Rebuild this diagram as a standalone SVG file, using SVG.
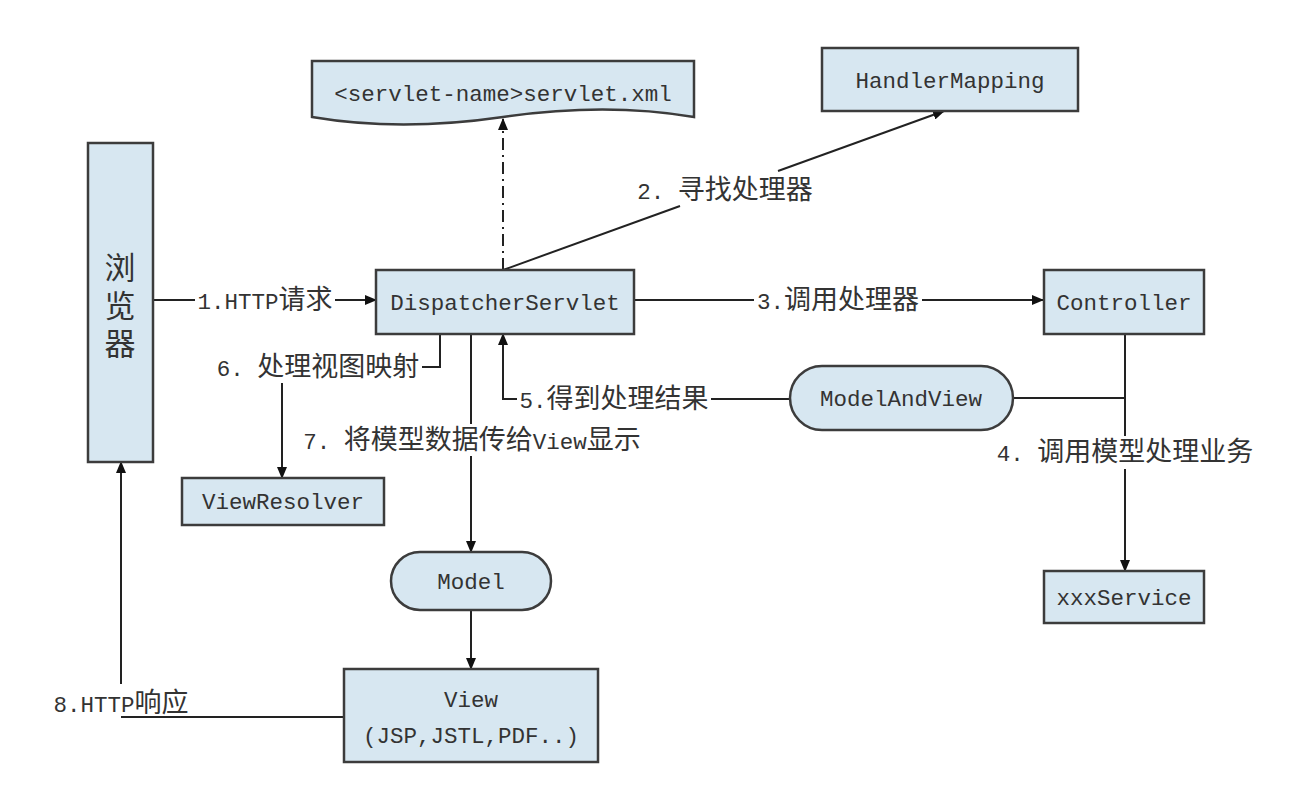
<svg xmlns="http://www.w3.org/2000/svg" width="1296" height="808" viewBox="0 0 1296 808">
<style>
.box{fill:#d7e7f1;stroke:#3c3c3c;stroke-width:2.5}
.t{font-family:'Liberation Mono','Noto Sans CJK SC',monospace;font-size:22.5px;fill:#333;text-anchor:middle}
.c{font-family:'Noto Sans CJK SC',sans-serif;font-size:27px}
.big{font-family:'Noto Sans CJK SC',sans-serif;font-size:31px;fill:#333;text-anchor:middle;writing-mode:vertical-rl;letter-spacing:7px}
.ln{fill:none;stroke:#222;stroke-width:2}
.arr{marker-end:url(#ah)}
.dd{stroke-dasharray:12 5 2 5}
</style>
<defs>
<marker id="ah" markerWidth="12" markerHeight="10" refX="11" refY="5" orient="auto" markerUnits="userSpaceOnUse">
<path d="M0,0 L12,5 L0,10 Z" fill="#111"/>
</marker>
</defs>
<rect width="1296" height="808" fill="#fff"/>

<g id="connectors">
<line class="ln" x1="153" y1="300" x2="195" y2="300"/>
<line class="ln arr" x1="335" y1="300" x2="376" y2="300"/>
<line class="ln dd arr" x1="503" y1="270" x2="503" y2="119"/>
<line class="ln" x1="503" y1="270" x2="680" y2="206"/>
<line class="ln arr" x1="778" y1="171" x2="944" y2="111"/>
<line class="ln" x1="634" y1="300" x2="754" y2="300"/>
<line class="ln arr" x1="922" y1="300" x2="1043" y2="300"/>
<line class="ln" x1="1125" y1="334" x2="1125" y2="436"/>
<line class="ln arr" x1="1125" y1="469" x2="1125" y2="571"/>
<line class="ln" x1="1013" y1="398" x2="1125" y2="398"/>
<line class="ln" x1="790" y1="399" x2="711" y2="399"/>
<polyline class="ln arr" points="517,399 503,399 503,334"/>
<polyline class="ln" points="440,334 440,367 422,367"/>
<line class="ln arr" x1="282" y1="383" x2="282" y2="478"/>
<line class="ln" x1="471" y1="334" x2="471" y2="424"/>
<line class="ln arr" x1="471" y1="456" x2="471" y2="552"/>
<line class="ln arr" x1="471" y1="610" x2="471" y2="669"/>
<line class="ln" x1="344" y1="717" x2="121" y2="717"/>
<line class="ln arr" x1="121" y1="684" x2="121" y2="462"/>
<text class="t" x="265" y="309">1.HTTP<tspan class="c">请求</tspan></text>
<text class="t" x="725" y="199">2. <tspan class="c">寻找处理器</tspan></text>
<text class="t" x="838" y="309">3.<tspan class="c">调用处理器</tspan></text>
<text class="t" x="1125" y="461">4. <tspan class="c">调用模型处理业务</tspan></text>
<text class="t" x="614" y="408">5.<tspan class="c">得到处理结果</tspan></text>
<text class="t" x="318" y="376">6. <tspan class="c">处理视图映射</tspan></text>
<text class="t" x="472" y="449">7. <tspan class="c">将模型数据传给</tspan>View<tspan class="c">显示</tspan></text>
<text class="t" x="121" y="712">8.HTTP<tspan class="c">响应</tspan></text>
</g>

<g id="browser">
<rect class="box" x="88" y="143" width="65" height="319"/>
<text class="big" x="120" y="309">浏览器</text>
</g>
<g id="servletxml">
<path class="box" d="M312,61 H694 V117 Q606,102 503,117 T312,117 Z"/>
<text class="t" x="503" y="101">&lt;servlet-name&gt;servlet.xml</text>
</g>
<g id="handlermapping">
<rect class="box" x="822" y="48" width="256" height="63"/>
<text class="t" x="950" y="88">HandlerMapping</text>
</g>
<g id="dispatcherservlet">
<rect class="box" x="376" y="270" width="258" height="64"/>
<text class="t" x="505" y="310">DispatcherServlet</text>
</g>
<g id="controller">
<rect class="box" x="1044" y="270" width="160" height="64"/>
<text class="t" x="1124" y="310">Controller</text>
</g>
<g id="modelandview">
<rect class="box" x="790" y="366" width="223" height="64" rx="32" ry="32"/>
<text class="t" x="901" y="406">ModelAndView</text>
</g>
<g id="viewresolver">
<rect class="box" x="182" y="478" width="202" height="47"/>
<text class="t" x="283" y="509">ViewResolver</text>
</g>
<g id="model">
<rect class="box" x="391" y="552" width="160" height="58" rx="29" ry="29"/>
<text class="t" x="471" y="589">Model</text>
</g>
<g id="view">
<rect class="box" x="344" y="669" width="254" height="93"/>
<text class="t" x="471" y="707">View</text>
<text class="t" x="471" y="743">(JSP,JSTL,PDF..)</text>
</g>
<g id="xxxservice">
<rect class="box" x="1044" y="571" width="160" height="52"/>
<text class="t" x="1124" y="605">xxxService</text>
</g>
</svg>
